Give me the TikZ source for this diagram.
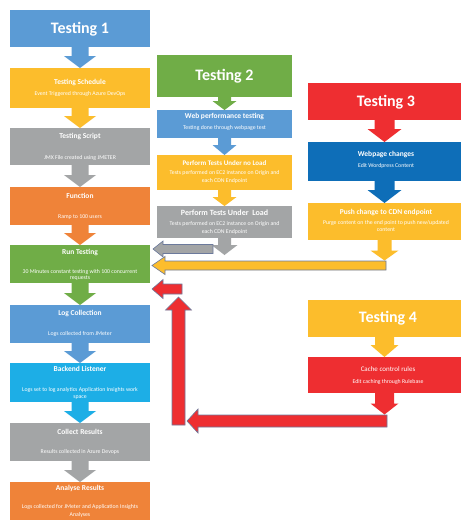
\documentclass[tikz,border=0pt]{standalone}
\usepackage{fontspec}
\setmainfont{Carlito}
\usetikzlibrary{calc}
\definecolor{blueA}{HTML}{5B9BD5}
\definecolor{goldA}{HTML}{FCBD2C}
\definecolor{grayA}{HTML}{A3A5A6}
\definecolor{orangeA}{HTML}{EF8339}
\definecolor{greenA}{HTML}{70AD47}
\definecolor{cyanA}{HTML}{1DAEE6}
\definecolor{navyA}{HTML}{0E6EB8}
\definecolor{redA}{HTML}{EE2E31}
\definecolor{edgeA}{HTML}{6C7A9C}
% block arrow pointing down: from, to, colour, stemhalf, headhalf, headlen
\newcommand{\blkdown}[6]{%
  \path[fill=#3] let \p1=(#1), \p2=(#2) in
    (\x1-#4pt,\y1) -- (\x1+#4pt,\y1) -- (\x1+#4pt,\y2+#6pt) -- (\x1+#5pt,\y2+#6pt)
    -- (\x1,\y2) -- (\x1-#5pt,\y2+#6pt) -- (\x1-#4pt,\y2+#6pt) -- cycle;}
% block arrow pointing left: tail, tip, colour, bodyhalf, headhalf, headlen
\newcommand{\blkleft}[6]{%
  \path[fill=#3, draw=edgeA, line width=0.6pt] let \p1=(#1), \p2=(#2) in
    (\x1,\y1+#4pt) -- (\x2+#6pt,\y1+#4pt) -- (\x2+#6pt,\y1+#5pt) -- (\x2,\y1)
    -- (\x2+#6pt,\y1-#5pt) -- (\x2+#6pt,\y1-#4pt) -- (\x1,\y1-#4pt) -- cycle;}
% block arrow pointing up: tail, tip, colour, bodyhalf, headhalf, headlen
\newcommand{\blkup}[6]{%
  \path[fill=#3, draw=edgeA, line width=0.6pt] let \p1=(#1), \p2=(#2) in
    (\x1-#4pt,\y1) -- (\x1-#4pt,\y2-#6pt) -- (\x1-#5pt,\y2-#6pt) -- (\x1,\y2)
    -- (\x1+#5pt,\y2-#6pt) -- (\x1+#4pt,\y2-#6pt) -- (\x1+#4pt,\y1) -- cycle;}
\begin{document}
\begin{tikzpicture}[x=1pt,y=-1pt,
  box/.style={rectangle, inner sep=0pt, outer sep=0pt},
  big/.style={text=white, font=\fontsize{16}{19}\selectfont\bfseries},
  ttl/.style={text=white, font=\fontsize{7.5}{9}\selectfont\bfseries},
  sub/.style={text=white, font=\fontsize{5.8}{7.2}\selectfont, align=center, inner sep=0pt}]
\useasboundingbox (0,0) rectangle (461,520);
\fill[white] (0,0) rectangle (461,520);

% ---------- column 1 ----------
\node[box, fill=blueA, minimum width=140, minimum height=37] (t1) at (80,28.5) {};
\node[big] (t1t) at (80,29) {Testing 1};
\node[box, fill=goldA, minimum width=140, minimum height=40] (sch) at (80,88) {};
\node[ttl] (scht) at (80,82) {Testing Schedule};
\node[sub] (schs) at (80,94) {Event Triggered through Azure DevOps};
\node[box, fill=grayA, minimum width=140, minimum height=37] (scr) at (80,146.5) {};
\node[ttl] (scrt) at (80,136) {Testing Script};
\node[sub] (scrs) at (80,158) {JMX File created using JMETER};
\node[box, fill=orangeA, minimum width=140, minimum height=38] (fun) at (80,206) {};
\node[ttl] (funt) at (80,196) {Function};
\node[sub] (funs) at (80,217) {Ramp to 100 users};
\node[box, fill=greenA, minimum width=140, minimum height=38] (run) at (80,264) {};
\node[ttl] (runt) at (80,252) {Run Testing};
\node[sub, font=\fontsize{5.8}{6.6}\selectfont] (runs) at (80,275) {30 Minutes constant testing with 100 concurrent\\requests};
\node[box, fill=blueA, minimum width=140, minimum height=38] (log) at (80,324) {};
\node[ttl] (logt) at (80,313) {Log Collection};
\node[sub] (logs) at (80,334) {Logs collected from JMeter};
\node[box, fill=cyanA, minimum width=140, minimum height=39] (bkl) at (80,382.5) {};
\node[ttl] (bklt) at (80,369) {Backend Listener};
\node[sub] (bkls) at (80,393.5) {Logs set to log analytics Application Insights work\\space};
\node[box, fill=grayA, minimum width=140, minimum height=38] (col) at (80,442) {};
\node[ttl] (colt) at (80,432) {Collect Results};
\node[sub] (cols) at (80,452) {Results collected in Azure Devops};
\node[box, fill=orangeA, minimum width=140, minimum height=38] (ana) at (80,501) {};
\node[ttl] (anat) at (80,488) {Analyse Results};
\node[sub, font=\fontsize{5.8}{8}\selectfont] (anas) at (80,511) {Logs collected for JMeter and Application Insights\\Analyses};

\blkdown{t1.south}{sch.north}{blueA}{8.5}{16}{12}
\blkdown{sch.south}{scr.north}{goldA}{8.5}{16}{12}
\blkdown{scr.south}{fun.north}{grayA}{8.5}{16}{12}
\blkdown{fun.south}{run.north}{orangeA}{8.5}{16}{12}
\blkdown{run.south}{log.north}{greenA}{8.5}{16}{12}
\blkdown{log.south}{bkl.north}{blueA}{8.5}{16}{12}
\blkdown{bkl.south}{col.north}{cyanA}{8.5}{16}{12}
\blkdown{col.south}{ana.north}{grayA}{8.5}{16}{12}

% ---------- column 2 ----------
\node[box, fill=greenA, minimum width=135, minimum height=42] (t2) at (224.5,76) {};
\node[big] (t2t) at (224.5,76) {Testing 2};
\node[box, fill=blueA, minimum width=135, minimum height=28] (web) at (224.5,124) {};
\node[ttl] (webt) at (224.5,116.5) {Web performance testing};
\node[sub] (webs) at (224.5,128) {Testing done through webpage test};
\node[box, fill=goldA, minimum width=135, minimum height=35] (nol) at (224.5,172.5) {};
\node[ttl, font=\fontsize{7}{8}\selectfont\bfseries] (nolt) at (224.5,163) {Perform Tests Under no Load};
\node[sub] (nols) at (224.5,177) {Tests performed on EC2 instance on Origin and\\each CDN Endpoint};
\node[box, fill=grayA, minimum width=135, minimum height=32] (lod) at (224.5,222) {};
\node[ttl, font=\fontsize{8}{9}\selectfont\bfseries] (lodt) at (224.5,213) {Perform Tests Under\ \ Load};
\node[sub] (lods) at (224.5,228) {Tests performed on EC2 instance on Origin and\\each CDN Endpoint};
\coordinate (lodend) at (224.5,255);

\blkdown{t2.south}{web.north}{greenA}{6.5}{12}{9}
\blkdown{web.south}{nol.north}{blueA}{6.5}{12}{10}
\blkdown{nol.south}{lod.north}{goldA}{6.5}{12}{9}
\blkdown{lod.south}{lodend}{grayA}{6.5}{13}{10}

% ---------- column 3 ----------
\node[box, fill=redA, minimum width=153, minimum height=37] (t3) at (384.5,101.5) {};
\node[big] (t3t) at (386,102) {Testing 3};
\node[box, fill=navyA, minimum width=153, minimum height=39] (wpc) at (384.5,161.5) {};
\node[ttl] (wpct) at (386,155) {Webpage changes};
\node[sub] (wpcs) at (386,166) {Edit Wordpress Content};
\node[box, fill=goldA, minimum width=153, minimum height=37] (psh) at (384.5,221.5) {};
\node[ttl] (psht) at (386,212) {Push change to CDN endpoint};
\node[sub] (pshs) at (386,226) {Purge content on the end point to push new/updated\\content};
\node[box, fill=goldA, minimum width=153, minimum height=37] (t4) at (384.5,318.5) {};
\node[big] (t4t) at (388,318) {Testing 4};
\node[box, fill=redA, minimum width=153, minimum height=36] (cch) at (384.5,375) {};
\node[ttl, font=\fontsize{7}{8}\selectfont] (ccht) at (388,369) {Cache control rules};
\node[sub] (cchs) at (388,382) {Edit caching through Rulebase};

\coordinate (pshend) at (384.5,260.5);
\coordinate (cchend) at (384.5,414.5);
\blkdown{t3.south}{wpc.north}{redA}{10}{17}{13}
\blkdown{wpc.south}{psh.north}{navyA}{10}{17}{13}
\blkdown{psh.south}{pshend}{goldA}{7}{14}{10}
\blkdown{t4.south}{cch.north}{goldA}{9.5}{14}{12}
\blkdown{cch.south}{cchend}{redA}{9.5}{14}{11}

% ---------- return arrows ----------
\coordinate (gtail) at (213,249);
\coordinate (gtip) at (153,249);
\coordinate (ytail) at (386,265.5);
\coordinate (ytip) at (152,265.5);
\coordinate (rtail) at (182,289);
\coordinate (rtip) at (152,289);
\coordinate (vtail) at (178.5,425);
\coordinate (vtip) at (178.5,297);
\coordinate (ltail) at (387,421);
\coordinate (ltip) at (187,421);

\blkleft{gtail}{gtip}{grayA}{4.5}{8}{10}
\blkleft{ytail}{ytip}{goldA}{4.5}{9}{13}
\blkup{vtail}{vtip}{redA}{6.5}{13}{13}
\blkleft{ltail}{ltip}{redA}{6}{12}{11}
\blkleft{rtail}{rtip}{redA}{5}{9.5}{11}
\end{tikzpicture}
\end{document}
